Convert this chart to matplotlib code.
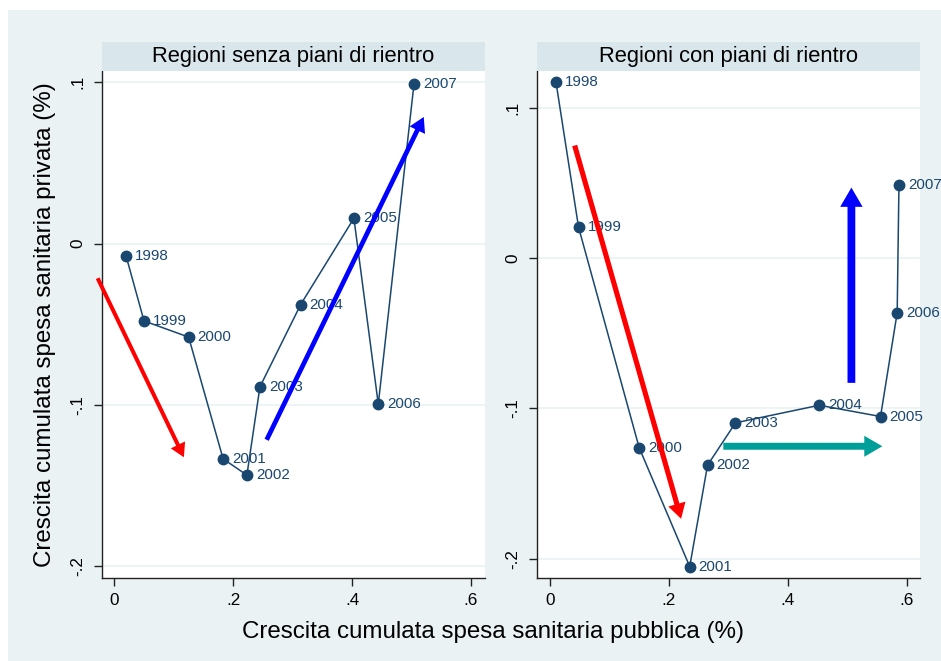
import matplotlib
matplotlib.use('Agg')
import matplotlib.pyplot as plt
from matplotlib.patches import Rectangle, FancyArrowPatch

plt.rcParams['font.family'] = ['Liberation Sans', 'DejaVu Sans']

# ---------------- data ----------------
years = [1998, 1999, 2000, 2001, 2002, 2003, 2004, 2005, 2006, 2007]

pub_senza = [0.020, 0.050, 0.125, 0.183, 0.223, 0.245, 0.3135, 0.403, 0.444, 0.504]
priv_senza = [-0.008, -0.048, -0.058, -0.1335, -0.1436, -0.0888, -0.0378, 0.0157, -0.0996, 0.0988]

pub_con = [0.010, 0.048, 0.150, 0.235, 0.265, 0.312, 0.453, 0.556, 0.584, 0.587]
priv_con = [0.1173, 0.0206, -0.1262, -0.2053, -0.1378, -0.1096, -0.0979, -0.1054, -0.0364, 0.0489]

panel_titles = ["Regioni senza piani di rientro", "Regioni con piani di rientro"]
xticks = [0, 0.2, 0.4, 0.6]
xtick_labels = ["0", ".2", ".4", ".6"]
yticks = [-0.2, -0.1, 0, 0.1]
ytick_labels = ["-.2", "-.1", "0", ".1"]

# trend arrows (start x, start y, end x, end y, color, width)
arrows_senza = [
    (-0.028, -0.0215, 0.117, -0.1325, "#FF0000", 2.9),
    (0.2563, -0.1217, 0.5205, 0.0785, "#0000FF", 3.4),
]
arrows_con = [
    (0.0415, 0.0750, 0.2205, -0.1735, "#FF0000", 3.7),
    (0.507, -0.0830, 0.507, 0.0470, "#0000FF", 5.6),
    (0.2915, -0.1252, 0.5590, -0.1252, "#009E99", 5.0),
]

# ---------------- styling ----------------
W, H = 941, 661
BG = "#EAF2F3"
HEAD_BG = "#D9E6EB"
NAVY = "#1A476F"

fig = plt.figure(figsize=(W / 100, H / 100), dpi=100)
fig.patch.set_facecolor("white")
fig.add_artist(Rectangle((8 / W, 0), 1 - 8 / W, 1 - 10 / H, transform=fig.transFigure,
                         facecolor=BG, edgecolor="none", zorder=0))

def fx(px):
    return px / W

def fy(py):
    return 1 - py / H

panels = [
    dict(left=102, right=485, xlim=(-0.0207, 0.6235), ylim=(-0.2074, 0.107),
         x=pub_senza, y=priv_senza, arrows=arrows_senza),
    dict(left=537, right=920, xlim=(-0.0219, 0.6224), ylim=(-0.2129, 0.1246),
         x=pub_con, y=priv_con, arrows=arrows_con),
]
top, bottom, head_top = 71, 578, 41.7

for i, p in enumerate(panels):
    ax = fig.add_axes([fx(p["left"]), fy(bottom), fx(p["right"] - p["left"]), (bottom - top) / H])
    ax.set_facecolor("white")
    ax.set_xlim(*p["xlim"])
    ax.set_ylim(*p["ylim"])
    for s in ["top", "right"]:
        ax.spines[s].set_visible(False)
    for s in ["left", "bottom"]:
        ax.spines[s].set_color("#222222")
        ax.spines[s].set_linewidth(1.0)
    ax.set_xticks(xticks)
    ax.set_xticklabels(xtick_labels, fontsize=12.3)
    ax.set_yticks(yticks)
    ax.set_yticklabels(ytick_labels, fontsize=12.3, rotation=90, va="center")
    ax.tick_params(axis="both", direction="out", length=6, width=1.0, color="#222222")
    ax.tick_params(axis="x", pad=5)
    ax.tick_params(axis="y", pad=6)
    ax.yaxis.grid(True, color=BG, lw=1.2)
    ax.set_axisbelow(True)

    ax.plot(p["x"], p["y"], color=NAVY, lw=1.1, marker="o", ms=7.5,
            markerfacecolor=NAVY, markeredgecolor=NAVY, zorder=3)
    for xv, yv, yr in zip(p["x"], p["y"], years):
        ax.annotate(str(yr), (xv, yv), xytext=(6.5, 0), textcoords="offset points",
                    fontsize=10.9, color=NAVY, va="center", ha="left",
                    annotation_clip=False, clip_on=False, zorder=4)

    for (x0, y0, x1, y1, col, lw) in p["arrows"]:
        arr = FancyArrowPatch((x0, y0), (x1, y1), transform=ax.transData,
                              arrowstyle="-|>,head_length=0.55,head_width=0.32",
                              mutation_scale=10, color=col, lw=lw,
                              joinstyle="miter", capstyle="butt",
                              shrinkA=0, shrinkB=0, clip_on=False, zorder=5)
        ax.add_patch(arr)

    # header strip
    fig.add_artist(Rectangle((fx(p["left"]), fy(top)), fx(p["right"] - p["left"]),
                             (top - head_top) / H, transform=fig.transFigure,
                             facecolor=HEAD_BG, edgecolor="none", zorder=1))
    fig.text(fx((p["left"] + p["right"]) / 2), fy((top + head_top) / 2), panel_titles[i],
             ha="center", va="center", fontsize=15.8, color="black")

fig.text(fx(45), fy(324.5), "Crescita cumulata spesa sanitaria privata (%)",
         rotation=90, ha="center", va="center", fontsize=17.4)
fig.text(fx(492.5), fy(632), "Crescita cumulata spesa sanitaria pubblica (%)",
         ha="center", va="center", fontsize=17.4)

fig.savefig("out.png", dpi=100, facecolor=fig.get_facecolor())
